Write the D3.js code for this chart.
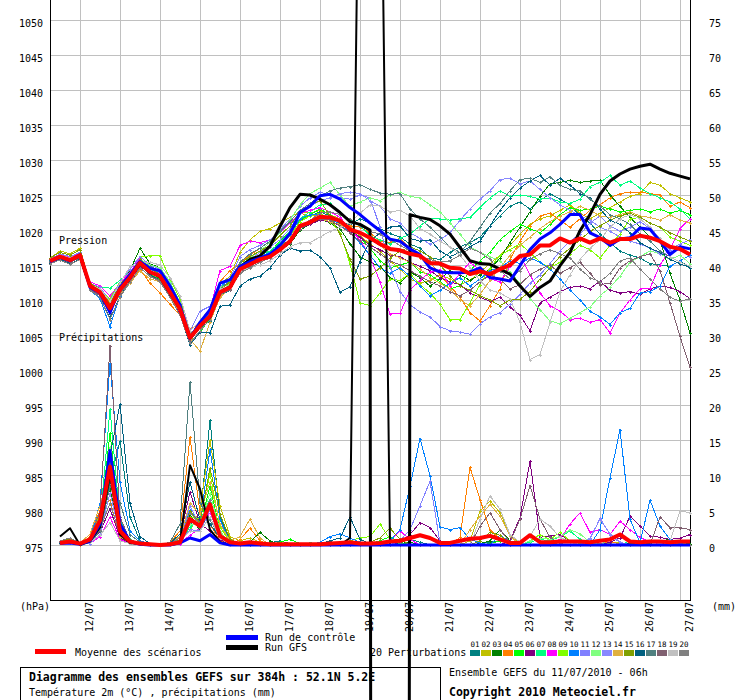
<!DOCTYPE html>
<html><head><meta charset="utf-8">
<script src="https://cdn.jsdelivr.net/npm/d3@7"></script>
<style>
html,body{margin:0;padding:0;background:#fff;}
svg{display:block;background:#fff;}
text{font-family:"DejaVu Sans Mono",monospace;font-size:10px;fill:#000;}
</style></head><body>
<svg id="chart" width="740" height="700"></svg>
<script>
// ---------- DATA ----------
const runStartUTC = Date.UTC(2010, 6, 11, 6);
const forecastHours = [0,6,12,18,24,30,36,42,48,54,60,66,72,78,84,90,96,102,108,114,120,126,132,138,144,150,156,162,168,174,180,186,192,198,204,210,216,222,228,234,240,246,252,258,264,270,276,282,288,294,300,306,312,318,324,330,336,342,348,354,360,366,372,378,384];
const dateLabels = ["12/07","13/07","14/07","15/07","16/07","17/07","18/07","19/07","20/07","21/07","22/07","23/07","24/07","25/07","26/07","27/07"];
const pressureTicks = [975,980,985,990,995,1000,1005,1010,1015,1020,1025,1030,1035,1040,1045,1050];
const precipTicks = [0,5,10,15,20,25,30,35,40,45,50,55,60,65,70,75];
const perturbationLabels = ["01","02","03","04","05","06","07","08","09","10","11","12","13","14","15","16","17","18","19","20"];

// Pressure (hPa), one value per forecast hour
const meanPressure = [1015.6,1016.2,1015.7,1016.4,1012.0,1011.1,1008.8,1011.5,1013.2,1015.3,
1014.0,1013.4,1011.1,1008.7,1004.6,1006.3,1007.7,1011.1,1011.8,1014.4,
1015.1,1015.8,1016.2,1017.2,1018.4,1020.6,1021.1,1021.9,1021.8,1021.3,
1020.1,1019.6,1018.9,1018.0,1017.3,1017.1,1016.6,1016.3,1015.3,1015.2,
1014.6,1014.5,1013.7,1014.1,1013.7,1014.4,1015.0,1016.3,1016.5,1017.8,
1017.8,1018.8,1018.2,1018.8,1018.2,1018.8,1018.2,1018.7,1018.7,1019.2,
1018.9,1018.4,1017.6,1017.3,1016.5];
const controlPressure = [1015.5,1016.1,1015.6,1016.5,1011.8,1011.0,1008.2,1011.8,1013.6,1015.5,
1014.5,1014.2,1012.0,1009.3,1004.5,1006.8,1008.6,1012.4,1012.9,1014.8,
1015.5,1016.0,1016.5,1017.8,1019.5,1022.5,1023.4,1024.9,1025.1,1024.4,
1023.2,1022.2,1021.0,1019.9,1018.7,1018.4,1017.3,1016.5,1014.6,1014.0,
1013.9,1013.9,1014.0,1014.6,1013.2,1013.0,1012.7,1014.9,1017.2,1018.7,
1019.6,1020.8,1022.2,1022.2,1019.6,1018.9,1017.8,1018.7,1018.9,1020.3,
1020.1,1018.4,1016.5,1017.6,1017.3];
// GFS run: the three 0 values are missing data, drawn off the chart as in the original
const gfsPressure = [1015.6,1016.1,1015.7,1016.3,1012.0,1011.1,1008.9,1011.5,1013.2,1015.2,
1014.0,1013.3,1011.0,1008.7,1004.6,1006.3,1007.6,1011.1,1011.9,1014.7,
1015.8,1016.3,1017.7,1020.5,1023.2,1025.1,1025.0,1024.4,1023.6,1022.5,
1021.2,1020.8,1020.0,0,0,0,1022.2,1021.8,1021.5,1020.6,
1019.4,1017.5,1015.6,1015.2,1015.1,1014.4,1013.7,1012.0,1010.5,1011.8,
1012.7,1014.9,1016.8,1019.9,1022.2,1025.1,1027.0,1028.0,1028.7,1029.1,
1029.4,1028.7,1028.1,1027.7,1027.3];

const p01 = [1015.4,1016.0,1015.5,1016.2,1011.8,1010.8,1008.0,1011.2,1013.0,1015.6,
1014.6,1013.8,1011.4,1009.2,1004.2,1006.0,1007.0,1010.6,1011.4,1014.0,
1015.4,1016.4,1017.0,1018.0,1019.6,1021.4,1022.0,1022.6,1022.0,1021.0,
1020.8,1021.6,1021.0,1020.2,1019.5,1019.0,1018.0,1017.4,1016.0,1015.8,
1016.8,1017.6,1018.2,1019.0,1020.6,1022.0,1023.4,1024.0,1023.0,1024.2,
1025.2,1024.4,1023.6,1022.0,1021.0,1019.4,1018.2,1017.0,1016.4,1016.0,
1015.2,1015.0,1014.8,1015.6,1014.6];
const p02 = [1016.0,1017.0,1016.6,1017.4,1012.4,1011.8,1009.6,1012.0,1013.6,1015.6,
1014.2,1013.0,1010.6,1008.4,1004.0,1006.2,1008.4,1012.2,1013.4,1016.8,
1018.6,1019.8,1020.2,1021.0,1021.8,1022.6,1022.4,1022.8,1022.2,1021.6,
1020.4,1019.2,1018.0,1017.0,1015.6,1014.4,1013.0,1012.4,1012.8,1013.6,
1013.0,1012.2,1012.8,1014.0,1015.2,1016.4,1017.8,1019.4,1020.8,1021.6,
1022.0,1022.8,1023.6,1022.4,1021.6,1022.4,1023.2,1024.0,1024.8,1025.2,
1026.8,1026.4,1025.2,1024.6,1024.0];
const p03 = [1015.6,1016.4,1016.0,1016.8,1012.2,1011.4,1009.0,1011.8,1014.2,1017.4,
1015.2,1014.6,1012.2,1009.6,1005.0,1006.4,1008.0,1011.4,1012.0,1014.2,
1015.2,1015.6,1016.4,1017.2,1018.0,1020.0,1020.8,1021.6,1021.0,1020.2,
1018.0,1016.2,1015.4,1014.8,1013.2,1012.4,1014.0,1013.2,1012.0,1013.0,
1014.2,1013.6,1012.8,1013.6,1014.4,1016.0,1018.2,1020.4,1022.6,1024.8,
1026.6,1026.8,1027.1,1026.8,1027.0,1027.1,1025.0,1023.4,1021.8,1020.4,
1019.0,1018.6,1013.8,1010.0,1005.3];
const p04 = [1015.4,1016.0,1015.8,1016.2,1012.0,1011.6,1009.6,1011.0,1012.6,1014.4,
1012.4,1011.0,1009.4,1007.8,1005.8,1006.6,1007.6,1012.6,1014.2,1015.2,
1016.4,1017.4,1018.4,1019.6,1021.0,1022.4,1022.0,1022.2,1021.6,1021.2,
1020.6,1020.4,1019.6,1018.4,1018.2,1018.8,1017.4,1016.0,1015.4,1013.6,
1012.0,1010.4,1008.2,1007.0,1009.2,1011.6,1015.8,1018.4,1020.6,1022.0,
1022.4,1021.4,1020.4,1021.6,1022.8,1023.6,1024.6,1025.2,1025.4,1025.4,
1025.2,1025.0,1023.4,1024.0,1023.2];
const p05 = [1015.8,1016.4,1015.9,1016.6,1012.2,1011.5,1009.4,1012.4,1013.8,1015.0,
1013.6,1013.0,1011.0,1008.8,1003.8,1005.4,1007.4,1010.8,1011.6,1014.2,
1015.2,1016.0,1016.8,1018.4,1019.8,1021.4,1022.2,1023.0,1022.2,1021.2,
1020.0,1019.0,1017.4,1015.6,1014.6,1015.0,1015.4,1014.0,1013.6,1012.6,
1011.6,1012.0,1014.2,1015.6,1016.8,1018.6,1019.8,1020.8,1020.2,1019.6,
1020.8,1022.2,1023.2,1022.8,1023.0,1023.4,1023.0,1022.6,1022.8,1023.0,
1022.6,1023.0,1022.4,1022.8,1022.2];
const p06 = [1015.2,1015.8,1015.4,1016.0,1011.6,1010.6,1008.6,1010.8,1012.4,1014.8,
1013.8,1013.2,1010.8,1008.0,1004.4,1006.8,1008.2,1011.6,1012.0,1014.8,
1015.6,1016.2,1016.8,1017.6,1018.6,1020.2,1020.8,1021.4,1021.2,1020.6,
1019.8,1019.0,1017.8,1017.2,1016.4,1016.2,1015.4,1014.8,1014.2,1013.2,
1012.6,1012.2,1011.0,1010.4,1009.8,1010.4,1009.0,1007.8,1005.6,1009.6,
1010.4,1011.2,1011.8,1012.0,1011.6,1012.7,1011.4,1011.0,1011.2,1010.8,
1011.6,1012.0,1011.8,1011.2,1010.2];
const p07 = [1015.7,1016.3,1015.8,1016.6,1012.2,1011.9,1011.7,1012.8,1014.0,1015.6,
1014.4,1013.8,1011.6,1009.0,1005.0,1006.8,1008.0,1011.8,1012.6,1014.8,
1015.6,1016.4,1017.0,1018.2,1019.8,1021.6,1022.6,1023.6,1023.8,1022.6,
1021.4,1020.6,1019.2,1018.6,1018.0,1018.8,1019.4,1020.6,1021.6,1021.6,
1021.4,1021.6,1021.8,1023.2,1024.6,1025.6,1024.8,1025.0,1024.8,1024.4,
1024.6,1024.0,1023.8,1024.4,1026.2,1026.8,1027.8,1026.4,1027.0,1026.0,
1025.2,1024.6,1024.0,1023.0,1021.6];
const p08 = [1015.8,1016.6,1016.0,1016.8,1012.6,1012.0,1010.6,1012.4,1014.0,1016.0,
1014.6,1013.8,1011.8,1009.2,1005.0,1006.8,1008.6,1014.2,1014.8,1017.8,
1018.4,1018.2,1018.6,1019.6,1021.0,1022.4,1022.8,1023.2,1022.6,1021.8,
1020.2,1018.6,1016.2,1012.6,1008.0,1008.1,1011.4,1012.8,1014.0,1014.3,
1012.0,1013.8,1015.4,1014.2,1013.0,1012.6,1014.8,1016.4,1013.6,1011.0,
1009.2,1008.4,1007.2,1007.4,1006.8,1007.2,1005.3,1008.1,1010.0,1011.6,
1011.7,1015.0,1017.2,1020.2,1021.6];
const p09 = [1015.6,1016.4,1015.8,1016.4,1012.2,1011.4,1010.2,1012.6,1014.4,1016.2,
1016.3,1016.3,1013.0,1010.2,1004.8,1006.4,1008.2,1011.6,1012.4,1014.4,
1015.6,1016.2,1016.6,1017.6,1019.2,1021.2,1022.0,1022.4,1021.4,1019.6,
1015.2,1009.6,1009.2,1011.0,1013.0,1012.8,1013.8,1012.2,1011.0,1009.4,
1007.2,1007.2,1009.6,1012.2,1014.6,1016.4,1017.2,1018.0,1016.8,1015.4,
1014.6,1015.4,1016.6,1017.8,1017.2,1016.0,1017.8,1019.4,1021.6,1021.8,
1021.0,1020.4,1019.0,1018.4,1017.8];
const p10 = [1015.4,1016.0,1015.6,1016.2,1011.4,1010.2,1006.2,1010.6,1013.2,1015.2,
1014.4,1014.0,1012.0,1008.8,1004.2,1006.6,1008.2,1012.0,1012.8,1014.6,
1015.4,1016.2,1016.8,1017.8,1019.4,1021.6,1022.2,1022.2,1021.6,1020.8,
1019.6,1018.2,1016.4,1014.6,1013.8,1014.6,1013.4,1012.0,1010.6,1011.4,
1012.4,1013.2,1012.0,1013.0,1014.2,1014.6,1015.6,1015.2,1016.0,1015.4,
1014.4,1013.0,1011.4,1010.0,1008.4,1007.6,1006.5,1008.2,1008.8,1011.0,
1011.2,1012.0,1014.8,1015.6,1016.4];
const p11 = [1015.8,1016.6,1016.2,1016.8,1012.4,1011.8,1009.8,1012.6,1014.4,1016.2,
1015.0,1014.4,1012.4,1009.4,1005.6,1008.4,1009.1,1012.2,1013.0,1016.2,
1017.2,1017.8,1018.6,1020.0,1021.6,1023.4,1024.6,1025.4,1025.0,1024.6,
1024.4,1025.0,1024.6,1020.4,1014.7,1011.2,1009.3,1008.3,1007.6,1006.2,
1005.6,1005.4,1005.1,1006.6,1007.6,1008.2,1009.4,1010.8,1012.4,1013.6,
1015.2,1017.0,1018.4,1019.4,1021.0,1022.0,1020.6,1019.8,1020.4,1021.2,
1020.2,1018.6,1017.2,1018.0,1018.6];
const p12 = [1015.6,1016.2,1015.8,1016.4,1012.0,1011.2,1009.2,1012.0,1013.6,1015.8,
1015.0,1014.6,1012.6,1009.6,1005.2,1006.4,1008.0,1011.8,1012.2,1015.0,
1016.0,1017.0,1018.2,1019.6,1021.4,1023.6,1025.2,1026.0,1026.8,1025.0,
1023.4,1024.0,1024.6,1024.2,1025.0,1025.4,1024.8,1024.6,1023.6,1022.6,
1021.0,1019.4,1017.6,1016.8,1016.2,1015.6,1014.0,1012.4,1010.2,1008.6,
1007.0,1006.6,1007.4,1008.2,1009.0,1010.6,1011.8,1013.4,1015.4,1016.2,
1017.0,1016.6,1015.8,1016.4,1015.2];
const p13 = [1015.5,1016.1,1015.6,1016.3,1011.8,1011.0,1008.6,1011.6,1013.4,1015.4,
1014.2,1013.6,1011.4,1008.8,1004.6,1006.2,1008.0,1011.0,1012.0,1014.6,
1015.8,1016.8,1017.6,1018.6,1020.2,1022.4,1023.4,1024.2,1024.6,1025.2,
1025.4,1025.2,1024.2,1023.4,1021.6,1021.0,1019.6,1018.8,1018.0,1018.6,
1019.6,1021.4,1023.0,1024.4,1025.6,1027.2,1027.4,1026.6,1027.0,1025.8,
1024.6,1023.6,1022.8,1022.0,1021.4,1020.4,1019.8,1019.0,1018.4,1018.0,
1017.4,1016.6,1016.8,1017.2,1016.2];
const p14 = [1015.4,1016.0,1015.6,1016.2,1011.8,1010.8,1008.4,1010.8,1012.4,1014.2,
1013.0,1012.6,1010.6,1008.2,1004.4,1002.7,1006.8,1010.4,1011.6,1014.0,
1015.0,1015.6,1016.2,1017.0,1018.4,1020.4,1021.2,1021.6,1021.2,1020.8,
1020.0,1019.6,1018.6,1017.8,1016.6,1016.0,1015.4,1014.4,1013.2,1012.4,
1011.6,1010.0,1009.2,1010.8,1012.8,1014.6,1016.4,1017.8,1019.0,1020.2,
1021.2,1022.0,1022.6,1023.4,1022.8,1022.0,1021.8,1022.2,1022.6,1022.0,
1021.8,1021.4,1022.2,1021.4,1021.0];
const p15 = [1016.0,1016.8,1016.4,1017.2,1012.4,1011.6,1009.4,1012.2,1013.8,1015.8,
1014.6,1013.6,1011.2,1008.6,1004.6,1006.2,1007.8,1011.4,1012.6,1015.2,
1016.2,1017.0,1017.8,1019.2,1020.6,1022.6,1023.6,1024.2,1022.0,1019.4,
1015.8,1013.0,1013.4,1014.6,1016.0,1017.0,1017.6,1017.0,1016.2,1015.0,
1013.4,1012.0,1011.4,1010.6,1010.0,1009.2,1010.0,1010.1,1011.2,1013.0,
1014.6,1016.2,1017.4,1018.6,1019.8,1020.6,1021.4,1022.0,1022.4,1021.8,
1021.0,1020.4,1019.6,1019.0,1018.4];
const p16 = [1015.3,1015.8,1015.2,1015.8,1011.4,1010.4,1007.4,1010.4,1012.8,1015.0,
1013.6,1012.8,1010.4,1007.8,1003.6,1005.4,1005.3,1009.1,1009.3,1012.0,
1013.0,1013.4,1014.6,1016.4,1017.4,1017.0,1017.1,1016.2,1014.6,1011.1,
1011.9,1015.5,1018.4,1019.6,1020.4,1020.6,1018.8,1018.4,1018.6,1017.0,
1016.2,1016.8,1017.6,1018.4,1020.6,1022.8,1024.6,1026.0,1027.0,1027.8,
1026.4,1027.4,1026.4,1025.2,1024.6,1023.0,1021.4,1020.8,1019.6,1018.2,
1017.4,1016.8,1015.8,1015.2,1014.6];
const p17 = [1015.6,1016.2,1015.8,1016.4,1012.0,1011.0,1008.8,1011.4,1013.4,1015.6,
1014.8,1014.2,1012.0,1009.4,1005.0,1006.8,1008.4,1011.6,1012.8,1015.4,
1016.6,1017.4,1018.4,1019.8,1021.2,1022.8,1023.8,1024.8,1025.6,1026.0,
1026.2,1026.5,1025.8,1025.3,1025.1,1025.2,1023.0,1021.6,1020.4,1019.0,
1017.6,1016.8,1018.4,1020.4,1022.4,1023.8,1025.6,1027.2,1027.4,1026.8,
1027.6,1026.4,1025.8,1025.6,1024.4,1023.4,1022.2,1021.6,1020.8,1019.4,
1018.4,1017.0,1016.2,1015.4,1014.8];
const p18 = [1015.4,1015.9,1015.4,1016.0,1011.6,1010.6,1008.2,1011.0,1012.6,1014.6,
1013.4,1012.8,1010.8,1008.4,1004.2,1006.0,1007.6,1010.8,1011.4,1014.0,
1014.8,1015.6,1016.2,1017.0,1018.2,1020.2,1021.0,1021.6,1021.4,1020.6,
1019.6,1018.4,1017.6,1016.6,1015.6,1015.0,1014.2,1013.4,1012.6,1012.0,
1011.2,1010.6,1011.4,1012.6,1013.6,1013.0,1011.6,1012.2,1013.6,1014.4,
1015.0,1013.8,1014.6,1015.4,1013.8,1012.2,1012.4,1014.6,1015.6,1016.2,
1016.6,1014.2,1009.6,1004.8,1000.4];
const p19 = [1015.8,1016.4,1016.0,1016.6,1012.2,1011.6,1009.8,1012.4,1014.8,1015.2,
1015.4,1015.0,1013.2,1010.6,1005.6,1007.0,1008.8,1011.6,1012.0,1014.2,
1014.6,1015.0,1015.6,1016.6,1017.6,1018.2,1018.2,1019.0,1019.8,1020.4,
1021.0,1022.4,1023.6,1023.4,1022.6,1022.8,1022.0,1020.2,1019.4,1018.4,
1017.6,1016.4,1014.6,1012.8,1011.4,1011.0,1010.2,1006.8,1001.5,1002.2,
1006.8,1011.2,1013.6,1015.8,1017.4,1018.6,1020.4,1021.6,1022.2,1021.6,
1020.4,1018.8,1016.2,1015.4,1014.8];
const p20 = [1015.2,1015.7,1015.1,1015.8,1011.4,1010.4,1007.2,1010.4,1012.6,1014.6,
1013.4,1012.6,1010.4,1007.8,1003.8,1005.6,1007.2,1010.8,1011.6,1013.8,
1014.6,1015.4,1016.0,1017.0,1018.6,1020.6,1021.4,1022.4,1022.6,1022.2,
1021.6,1020.6,1019.8,1019.4,1018.6,1017.8,1017.0,1016.2,1015.8,1015.4,
1015.6,1016.4,1017.4,1016.8,1015.8,1014.2,1013.0,1014.2,1015.8,1016.6,
1017.2,1016.6,1016.0,1014.4,1013.2,1012.6,1013.8,1015.6,1016.0,1014.4,
1013.0,1011.6,1010.4,1009.8,1010.2];

// Precipitation (mm per 6h), from forecast hour 6 to 384
const meanPrecip = [0.3,0.5,0.2,0.8,3.5,11.2,2.0,0.5,0.2,0.1,
0,0.1,0.4,3.7,2.7,5.8,1.3,0.4,0.2,0.4,
0.2,0.1,0.1,0.1,0.1,0.1,0.1,0.2,0.3,0.4,
0.2,0.2,0.3,0.5,0.6,1.0,1.4,1.0,0.3,0.3,
0.6,0.9,1.0,1.3,0.8,0.3,0.3,1.4,0.4,0.4,
0.5,0.5,0.5,0.4,0.6,0.8,1.5,0.5,0.4,0.5,
0.5,0.4,0.5,0.5];
const controlPrecip = [0.2,0.3,0.1,0.6,3.0,13.5,3.0,0.5,0.1,0,
0,0,0.3,1.0,0.6,1.5,0.3,0,0,0,
0,0,0,0,0,0,0,0,0,0,
0,0,0,0,0,0,0,0,0,0,
0,0,0,0,0,0,0,0,0,0,
0,0,0,0,0,0,0,0,0,0,
0,0,0,0];
const gfsPrecip = [1.2,2.4,0,0.5,2.5,10.0,1.5,0.3,0.1,0,
0,0,0.3,11.4,8.0,2.2,0.4,0,0,0,
0,0,0,0,0,0,0,0,0,1.0,
116,116,116,0,0,0,0,0,0,0,
0,0,0,0,0,0,0,0,0,0,
0,0,0,0,0,0,0,0,0,0,
0,0,0,0];
const r01 = [0.3,0.5,0.2,0.6,2.4,9.0,14.9,4.0,0.6,0.1, 0,0,0.4,3.0,4.0,17.8,4.0,0.6,0.2,0, 0,0.3,0.6,0.2,0,0,0,0.2,0.4,0.2, 0,0,0,0,0.3,0.8,0.4,0,0,0, 0,0,0.2,0.4,0.6,0.2,0,0,0,0, 0,0,0,0.3,0.2,0,0,0,0,0, 0.2,0.4,0.2,0];
const r02 = [0.4,0.6,0.2,0.4,3.6,12.0,2.0,0.5,0.2,0, 0,0,0.6,2.0,5.0,15.0,5.6,1.2,0.6,1.0, 0.4,0,0,0,0,0.2,0,0,0,0, 0,0,0,0.4,0.2,0,0,0,0,0, 0,0.6,4.9,6.3,4.6,1.5,0.2,0,0,0, 0,0,0,0,0,0.3,0.4,0,0,0, 0,0,0.3,0.2];
const r03 = [0.2,0.4,0.2,0.8,4.2,8.0,1.5,0.3,0.1,0, 0,0.2,1.0,4.4,2.0,6.0,2.0,0.2,0,0.4, 1.8,0.6,0,0,0.2,0,0,0,0,0, 0,0,0,0,0.2,0.4,0,0,0,0, 0,0,0.2,0.6,2.2,0.6,0,0,0,0, 0,0,0,0,0,0,0,0.2,0.3,0.2, 0.6,0.8,0.4,0.2];
const r04 = [0.2,0.3,0,1.2,5.0,6.4,1.0,0.2,0.1,0, 0,0.4,2.0,15.4,4.6,3.0,0.6,0,0.8,2.4, 0.6,0,0,0,0,0,0,0,0,0, 0,0,0,0,0,0,0,0,0,0, 1.1,11.1,6.5,2.2,0.8,0.2,0,0,0,0, 0,0,0,0,0.2,0.4,0.2,0,0,0, 0,0,0,0];
const r05 = [0.2,0.6,0.3,0.4,2.8,16.0,3.0,0.6,0.2,0, 0,0,0.6,3.6,2.6,8.4,2.0,0.2,0,0, 0,0,0.4,0.8,0.2,0,0,0,0,0, 0,0.2,0.6,1.2,0.4,0,0,0,0,0, 0,0,0,0.2,0.6,0.2,0,0,0,0, 0.4,0.6,0.2,0,0,0,0,0,0,0, 0,0,0,0];
const r06 = [0.3,0.4,0.1,0.6,1.8,5.2,1.0,0.3,0.1,0, 0,0.2,1.2,7.6,3.0,2.0,0.8,0,0,0, 0,0,0,0,0,0,0,0,0,0, 0,0,0,0,0.4,1.5,3.2,2.5,0.6,0.2, 0,0,0,0,0,0.6,3.9,12.0,1.1,1.3, 1.5,0.6,0.2,0,0,0.4,1.0,4.1,2.7,1.3, 1.1,0.8,1.0,1.5];
const r07 = [0.2,0.4,0.1,0.4,3.2,19.4,3.5,0.8,0.2,0, 0,0,0.4,2.6,3.4,6.6,1.4,0.2,0,0, 0,0,0,0,0,0.3,0.2,0,0,0, 0,0,0,0,0,0,0,0,0,0, 0,0,0,0,0,0,0,0.4,0.8,0.6, 1.2,2.0,0.8,0.2,0,0,0,0.6,0.4,0, 0,0,0,0];
const r08 = [0.4,0.8,0.3,0.2,1.2,4.0,0.8,0.2,0.1,0, 0,0,0.2,1.4,2.4,4.6,1.2,0,0,0, 0,0,0,0,0,0,0,0,0,0, 0,0,0,0.6,2.0,0.8,0,0,0,0, 0,0,0,0,0,0,0,0,0,0.4, 0.8,3.0,4.6,1.8,2.2,1.5,3.4,2.2,1.1,0.4, 0.2,0,0,0];
const r09 = [0.6,0.8,0.3,0.6,4.4,13.2,2.0,0.4,0.1,0, 0,0,0.8,4.0,3.8,10.2,2.6,0.4,0,0, 0,0,0,0,0,0,0,0,0.2,0.6, 1.0,1.2,3.0,0.8,0.2,0,0,0,0,0, 0,0,0,0,0,0,0,0.6,1.5,0.8, 1.8,0.6,0.2,0,0,0,0,0,0,0, 0,0,0,0];
const r10 = [0.2,0.3,0.1,0.8,6.0,26.0,9.0,2.0,0.6,0.2, 0,0,0.6,5.0,3.0,13.7,3.6,0.4,0,0, 0,0,0,0,0,0,0.4,1.2,1.6,1.0, 0.4,0,0,0.6,2.2,8.4,15.2,9.9,2.6,2.2, 2.5,0.8,0.3,0,1.4,0.4,0,0,0,0, 0,0,0,0,2.2,9.6,16.5,3.7,0.3,6.4, 2.7,0.8,0.2,0];
const r11 = [0.2,0.4,0.2,0.4,2.0,10.4,2.5,0.6,0.2,0, 0,0,0.4,2.2,2.0,5.0,1.6,0,0,0, 0,0,0,0,0,0,0,0,0,0, 0,0,0,0,0.6,2.2,5.6,9.1,0.3,0, 0,0,0,0,0,0,0,0,0,0, 0,0,0,0.8,3.8,1.5,0.3,0,0,0, 0,0,0,0];
const r12 = [0.4,0.6,0.2,0.6,3.4,14.0,2.4,0.5,0.2,0, 0,0,0.4,3.0,3.0,7.4,2.0,0.2,0,0, 0,0,0,0,0,0,0,0,0,0, 0,0,0,0,0,0,0,0,0,0, 0,0,0,0,0,0,0,0.6,1.0,0.8, 1.2,2.2,1.6,0.4,0,0.8,1.4,0.6,0,0, 0,0,0,0];
const r13 = [0.2,0.3,0.1,0.2,1.6,7.4,1.6,0.3,0.1,0, 0,0,0.6,5.6,2.8,4.0,1.0,0,0,0, 0,0,0,0,0,0,0,0,0,0, 0,0,0,0,0,0,0,0,0,0, 0,0,0,0,0,0,0,0,0,0, 0,0,0,1.0,3.7,1.6,0.4,0,0,0, 0,0,0,0];
const r14 = [0.4,0.6,0.2,1.6,5.6,11.0,1.2,0.3,0.1,0, 0,0.4,1.2,6.0,4.4,9.0,3.0,0.6,1.2,3.7, 1.0,0,0,0,0,0,0,0,0,0, 0,0,0,0,0,0,0,0,0,0, 0,2.2,4.1,5.8,4.1,1.3,0,0,0,0, 0,0,0,0,0,0,0,0,0,0, 0,0,0,0];
const r15 = [0.6,0.8,0.2,0.8,3.0,9.6,2.2,0.5,0.1,0, 0,0,0.8,4.8,3.2,11.0,4.4,0.8,0.2,0, 0,0,0,0,0,0,0,0,0,0, 0,0.4,1.0,2.4,0.8,0,0,0,0,0, 0,0,0.6,1.8,1.4,0.2,0,0,0,0, 0,0,0,0,0,0,0,0,0,0, 0,0,0,0];
const r16 = [0.3,0.4,0.1,0.6,2.6,12.8,20.1,6.0,1.2,0.2, 0,0.2,1.6,9.0,3.6,3.0,1.0,0,0,0, 0,0,0,0,0,0,0.2,0.6,1.0,4.0, 0.8,0.2,0,0,0,0,0,0,0,0, 0,0,0,0,0,0,0,0,0,0, 0,0,0,0,0,0,0,0,0,0, 0,0,0,0];
const r17 = [0.2,0.3,0.1,0.4,2.0,8.4,6.0,1.5,0.4,0, 0,0.4,3.0,23.3,6.0,3.6,1.0,0,0,0, 0,0,0,0,0,0,0,0,0,0, 0,0,0,0,0,0,0,0,0,0, 0,0,0,0,0,0,0,0,0,0, 0,0,0,0,0,0,0,0,0,0, 0,0,0,0];
const r18 = [0.4,0.6,0.2,1.0,4.8,28.5,4.0,0.6,0.2,0, 0,0,0.6,3.6,2.4,5.4,1.4,0,0,0, 0,0,0,0,0,0,0,0,0,0, 0,0,0,0,0,0,0,0,0,0, 0,0,2.7,4.6,2.2,0.4,3.7,8.5,3.7,1.1, 0.2,0,0,0,0,0,0,0,0,0, 4.0,2.5,2.5,2.2];
const r19 = [0.2,0.3,0.1,0.4,1.4,3.2,0.6,0.2,0.1,0, 0,0,0.6,2.0,2.0,4.0,1.0,0,0,0, 0,0,0,0,0,0,0,0,0,0, 0,0,0,0,0,0,0,0,0,0, 0,0,3.7,7.0,5.1,1.5,0.4,1.2,3.7,2.7, 1.1,0.4,0,0,0,0,0,0,0,0, 0.2,0.6,4.9,4.6];
const r20 = [0.6,1.0,0.3,0.6,2.2,6.0,1.4,0.4,0.1,0, 0,0.2,1.0,4.6,3.0,6.4,1.6,0.2,0,0, 0,0,0,0,0,0,0,0,0,0, 0,0,0,0,0,0,0,0,0,0, 0,0,0,0,0,0,0,0,0,0, 0,0,0,0,0,0,0,0,0,0, 0,0,0,0];

// ---------- STYLE ----------
const perturbationColors = ["#008080","#c0c000","#008000","#ff8000","#00ff00","#800080","#00ff80","#ff00ff","#80ff00","#0080ff",
  "#8080ff","#80ff80","#8888ff","#e0b040","#80a000","#006080","#508080","#806070","#c0c0c0","#808080"];
const perturbationPressure = [p01,p02,p03,p04,p05,p06,p07,p08,p09,p10,p11,p12,p13,p14,p15,p16,p17,p18,p19,p20];
const perturbationPrecip = [r01,r02,r03,r04,r05,r06,r07,r08,r09,r10,r11,r12,r13,r14,r15,r16,r17,r18,r19,r20];

// ---------- CHART ----------
const svg = d3.select("#chart");
const HOUR = 3600 * 1000;
const times = forecastHours.map(h => new Date(runStartUTC + h * HOUR));
const precipTimes = times.slice(1);
const dayTicks = dateLabels.map((s, i) => new Date(Date.UTC(2010, 6, 12 + i, 0)));

const x = d3.scaleUtc().domain([times[0], times[times.length - 1]]).range([50, 690]);
const yP = d3.scaleLinear().domain([975, 1050]).range([545, 20]);
const yR = d3.scaleLinear().domain([0, 75]).range([545, 20]);

// grid
svg.append("g").attr("transform", "translate(50,0)")
  .call(d3.axisLeft(yP).tickValues(pressureTicks).tickSize(-640).tickFormat(""))
  .call(g => g.select(".domain").remove())
  .selectAll("line").attr("stroke", "#c0c0c0").attr("shape-rendering", "crispEdges");
svg.append("g").attr("transform", "translate(0,600)")
  .call(d3.axisBottom(x).tickValues(dayTicks).tickSize(-600).tickFormat(""))
  .call(g => g.select(".domain").remove())
  .selectAll("line").attr("stroke", "#c0c0c0").attr("shape-rendering", "crispEdges");

// frame (left, right, bottom)
const frame = svg.append("g").attr("stroke", "#000").attr("shape-rendering", "crispEdges");
frame.append("line").attr("x1", 50.5).attr("x2", 50.5).attr("y1", 0).attr("y2", 600.5);
frame.append("line").attr("x1", 690.5).attr("x2", 690.5).attr("y1", 0).attr("y2", 600.5);
frame.append("line").attr("x1", 50.5).attr("x2", 690.5).attr("y1", 600.5).attr("y2", 600.5);

// axes labels
const leftAxis = svg.append("g").attr("transform", "translate(50,0)")
  .call(d3.axisLeft(yP).tickValues(pressureTicks).tickSize(0).tickPadding(7).tickFormat(d3.format("d")))
  .call(g => g.select(".domain").remove());
leftAxis.selectAll("text").attr("dy", "0.62em");
const rightAxis = svg.append("g").attr("transform", "translate(690,0)")
  .call(d3.axisRight(yR).tickValues(precipTicks).tickSize(0).tickPadding(19).tickFormat(d3.format("d")))
  .call(g => g.select(".domain").remove());
rightAxis.selectAll("text").attr("dy", "0.62em");
const bottomAxis = svg.append("g").attr("transform", "translate(0,600)")
  .call(d3.axisBottom(x).tickValues(dayTicks).tickSize(0).tickFormat((d, i) => dateLabels[i]))
  .call(g => g.select(".domain").remove());
bottomAxis.selectAll("text")
  .attr("transform", "rotate(-90)").attr("text-anchor", "end")
  .attr("x", -2).attr("y", 12).attr("dy", 0);

svg.append("text").attr("x", 20).attr("y", 610).text("(hPa)");
svg.append("text").attr("x", 712).attr("y", 610).text("(mm)");
svg.append("text").attr("x", 59).attr("y", 244).text("Pression");
svg.append("text").attr("x", 59).attr("y", 341).text("Précipitations");

// series
const lineP = d3.line().x((d, i) => x(times[i])).y(d => yP(d));
const lineR = d3.line().x((d, i) => x(precipTimes[i])).y(d => yR(d));
const plusPath = (vals, ts, yScale) => vals.map((v, i) => {
  const px = Math.round(x(ts[i])) + 0.5, py = Math.round(yScale(v)) + 0.5;
  return `M${px - 1.5},${py}h3M${px},${py - 1.5}v3`;
}).join("");

const pert = svg.append("g").attr("fill", "none");
perturbationPressure.forEach((vals, k) => {
  const c = perturbationColors[k];
  pert.append("path").attr("d", lineR(perturbationPrecip[k])).attr("stroke", c).attr("stroke-width", 1).attr("shape-rendering", "crispEdges");
  pert.append("path").attr("d", plusPath(perturbationPrecip[k], precipTimes, yR)).attr("stroke", c).attr("stroke-width", 1).attr("shape-rendering", "crispEdges");
  pert.append("path").attr("d", lineP(vals)).attr("stroke", c).attr("stroke-width", 1).attr("shape-rendering", "crispEdges");
  pert.append("path").attr("d", plusPath(vals, times, yP)).attr("stroke", c).attr("stroke-width", 1).attr("shape-rendering", "crispEdges");
});

const main = svg.append("g").attr("fill", "none").attr("stroke-linejoin", "round");
main.append("path").attr("d", lineR(gfsPrecip)).attr("stroke", "#000").attr("stroke-width", 2);
main.append("path").attr("d", lineP(gfsPressure)).attr("stroke", "#000").attr("stroke-width", 3);
main.append("path").attr("d", lineR(controlPrecip)).attr("stroke", "#0000ff").attr("stroke-width", 3);
main.append("path").attr("d", lineP(controlPressure)).attr("stroke", "#0000ff").attr("stroke-width", 3);
main.append("path").attr("d", lineR(meanPrecip)).attr("stroke", "#ff0000").attr("stroke-width", 4);
main.append("path").attr("d", lineP(meanPressure)).attr("stroke", "#ff0000").attr("stroke-width", 4);

// legend
const leg = svg.append("g");
leg.append("rect").attr("x", 35).attr("y", 649).attr("width", 31).attr("height", 5).attr("fill", "#ff0000");
leg.append("text").attr("x", 75).attr("y", 656).text("Moyenne des scénarios");
leg.append("rect").attr("x", 226).attr("y", 635).attr("width", 32).attr("height", 5).attr("fill", "#0000ff");
leg.append("text").attr("x", 265).attr("y", 641).text("Run de contrôle");
leg.append("rect").attr("x", 226).attr("y", 645).attr("width", 32).attr("height", 5).attr("fill", "#000");
leg.append("text").attr("x", 265).attr("y", 651).text("Run GFS");
leg.append("text").attr("x", 370).attr("y", 656).text("20 Perturbations");
perturbationLabels.forEach((lab, k) => {
  leg.append("rect").attr("x", 470 + 11 * k).attr("y", 650).attr("width", 10).attr("height", 6).attr("fill", perturbationColors[k]);
  leg.append("text").attr("x", 475 + 11 * k).attr("y", 647).attr("text-anchor", "middle").style("font-size", "7.5px").text(lab);
});

// title box
svg.append("rect").attr("x", 20.5).attr("y", 667.5).attr("width", 420).attr("height", 40)
  .attr("fill", "none").attr("stroke", "#000").attr("shape-rendering", "crispEdges");
svg.append("text").attr("x", 29).attr("y", 681).style("font-weight", "bold").style("font-size", "11.5px")
  .text("Diagramme des ensembles GEFS sur 384h : 52.1N 5.2E");
svg.append("text").attr("x", 29).attr("y", 696).text("Température 2m (°C) , précipitations (mm)");
svg.append("text").attr("x", 449).attr("y", 676).text("Ensemble GEFS du 11/07/2010 - 06h");
svg.append("text").attr("x", 449).attr("y", 696).style("font-weight", "bold").style("font-size", "11.5px")
  .text("Copyright 2010 Meteociel.fr");

// GFS missing-data strokes are drawn on top of the page, as in the original
svg.node().appendChild(main.node());
</script>
</body></html>
